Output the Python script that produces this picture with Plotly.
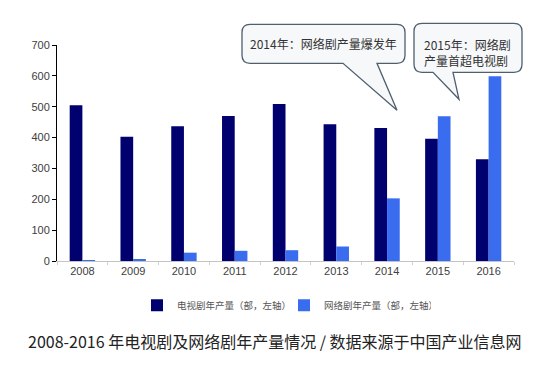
import plotly.graph_objects as go

years = ['2008', '2009', '2010', '2011', '2012', '2013', '2014', '2015', '2016']
tv_dramas = [505, 403, 437, 470, 509, 443, 431, 396, 330]
web_dramas = [3, 6, 27, 33, 35, 47, 203, 469, 599]

tv_name = '电视剧年产量（部，左轴）'
web_name = '网络剧年产量（部，左轴）'
note_2014 = '2014年：网络剧产量爆发年'
note_2015 = '2015年：网络剧<br>产量首超电视剧'
caption = '2008-2016 年电视剧及网络剧年产量情况 / 数据来源于中国产业信息网'

W, H = 548, 369
L, R, T, B = 57, 514, 44.7, 260.7
PW, PH = R - L, B - T


def px(x):
    return (x - L) / PW


def py(y):
    return (B - y) / PH


def bubble(left, right, top, bottom, r, tl, tr, tip):
    pts = []
    pts.append(f"M{px(left + r)},{py(top)}")
    pts.append(f"L{px(right - r)},{py(top)}")
    pts.append(f"Q{px(right)},{py(top)} {px(right)},{py(top + r)}")
    pts.append(f"L{px(right)},{py(bottom - r)}")
    pts.append(f"Q{px(right)},{py(bottom)} {px(right - r)},{py(bottom)}")
    pts.append(f"L{px(tr)},{py(bottom)}")
    pts.append(f"L{px(tip[0])},{py(tip[1])}")
    pts.append(f"L{px(tl)},{py(bottom)}")
    pts.append(f"L{px(left + r)},{py(bottom)}")
    pts.append(f"Q{px(left)},{py(bottom)} {px(left)},{py(bottom - r)}")
    pts.append(f"L{px(left)},{py(top + r)}")
    pts.append(f"Q{px(left)},{py(top)} {px(left + r)},{py(top)}")
    pts.append("Z")
    return " ".join(pts)


fig = go.Figure()
fig.add_trace(go.Bar(x=years, y=tv_dramas, name=tv_name, marker_color='#00006e',
                     marker_line_width=0))
fig.add_trace(go.Bar(x=years, y=web_dramas, name=web_name, marker_color='#3a6cf0',
                     marker_line_width=0))

shape_style = dict(type='path', xref='paper', yref='paper',
                   fillcolor='#f6f8fa', line=dict(color='#4f5f6e', width=1.3),
                   layer='above')
fig.add_shape(path=bubble(242, 405, 24, 63, 8, 343, 377, (397, 110)), **shape_style)
fig.add_shape(path=bubble(414, 522, 23, 72, 8, 433, 453, (459, 99)), **shape_style)

cjk = 'Noto Sans CJK SC'
fig.add_annotation(x=px(323), y=py(43), xref='paper', yref='paper', text=note_2014,
                   showarrow=False, xanchor='center', yanchor='middle',
                   font=dict(family=cjk, size=12, color='#333333'))
fig.add_annotation(x=px(467), y=py(52), xref='paper', yref='paper', text=note_2015,
                   showarrow=False, align='left', xanchor='center', yanchor='middle',
                   font=dict(family=cjk, size=12, color='#333333'))
fig.add_annotation(x=px(275), y=py(341), xref='paper', yref='paper', text=caption,
                   showarrow=False, xanchor='center', yanchor='middle',
                   font=dict(family=cjk, size=16, color='#222222'))

fig.update_layout(
    width=W, height=H,
    margin=dict(l=L, r=W - R, t=T, b=H - B),
    paper_bgcolor='white', plot_bgcolor='white',
    barmode='group', bargap=0.5, bargroupgap=0,
    font=dict(family='Liberation Sans, Arial', size=11, color='#404040'),
    showlegend=True,
    legend=dict(orientation='h', x=px(137), y=py(305), xanchor='left', yanchor='middle',
                font=dict(family=cjk, size=9.5, color='#555555'),
                itemwidth=30, entrywidth=102, bgcolor='rgba(0,0,0,0)'),
)
fig.update_xaxes(type='category', range=[-0.5, 8.5], showline=True, linecolor='#c4c4c4',
                 linewidth=1, ticks='outside', tickson='boundaries', ticklen=3,
                 tickcolor='#d0d0d0', showgrid=False, zeroline=False,
                 tickfont=dict(size=11, color='#404040'))
fig.update_yaxes(range=[0, 700], dtick=100, showline=True, linecolor='#000000',
                 linewidth=1, ticks='outside', ticklen=4, tickcolor='#000000',
                 showgrid=False, zeroline=False, tickfont=dict(size=11, color='#404040'))

fig.write_html('out.html')
